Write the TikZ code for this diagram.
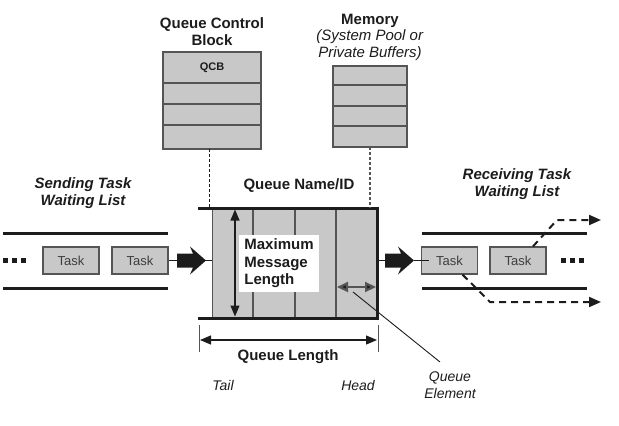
\documentclass[tikz,border=0pt]{standalone}
\usepackage{fontspec}
\setmainfont{Liberation Sans}
\usetikzlibrary{arrows.meta}
\definecolor{boxgray}{RGB}{200,200,200}
\definecolor{ink}{RGB}{28,28,28}
\definecolor{edgegray}{RGB}{85,85,85}
\begin{document}
\begin{tikzpicture}[x=1pt,y=-1pt,
  titlef/.style={font=\fontsize{15}{17}\selectfont\bfseries, align=center, text=ink, inner sep=0pt},
  titleit/.style={font=\fontsize{15}{17}\selectfont\bfseries\itshape, align=center, text=ink, inner sep=0pt},
  italf/.style={font=\fontsize{14}{17}\selectfont\itshape, align=center, text=ink, inner sep=0pt},
  cell/.style={draw=edgegray, line width=1.2pt, fill=boxgray, inner sep=0pt, outer sep=0pt},
  taskbox/.style={draw=edgegray, line width=1.2pt, fill=boxgray, minimum width=56pt, minimum height=27pt, inner sep=0pt, font=\fontsize{13}{15}\selectfont, text=ink!85},
  thickline/.style={line width=3pt, draw=ink},
  divider/.style={line width=1.3pt, draw=edgegray},
  dashtip/.style={-{Triangle[width=10pt,length=12pt]}, line width=2pt, draw=ink, dash pattern=on 7pt off 5pt},
  fatarrow/.style={fill=ink}
]
\useasboundingbox (0,0) rectangle (619,426);

% ---- Queue Control Block
\node[titlef] (qcbtitle) at (212,31.5) {Queue Control\\Block};
\node[cell, minimum width=98pt, minimum height=31pt, font=\fontsize{11}{13}\selectfont\bfseries, text=ink] (qcb1) at (212,67.5) {QCB};
\node[cell, minimum width=98pt, minimum height=21pt] (qcb2) at (212,93.5) {};
\node[cell, minimum width=98pt, minimum height=21pt] (qcb3) at (212,114.5) {};
\node[cell, minimum width=98pt, minimum height=24pt] (qcb4) at (212,137) {};

% ---- Memory
\node[inner sep=0pt, align=center, text=ink, font=\fontsize{15}{16.5}\selectfont] (memtitle) at (370,37)
  {\textbf{Memory}\\\textit{(System Pool or}\\\textit{Private Buffers)}};
\node[cell, minimum width=74pt, minimum height=19pt] (mem1) at (370,75.5) {};
\node[cell, minimum width=74pt, minimum height=21pt] (mem2) at (370,95.5) {};
\node[cell, minimum width=74pt, minimum height=20pt] (mem3) at (370,116) {};
\node[cell, minimum width=74pt, minimum height=21pt] (mem4) at (370,136.5) {};

% ---- Queue
\node[titlef] (qname) at (299,186) {Queue Name/ID};
\node[draw=edgegray, line width=1pt, fill=boxgray, minimum width=165pt, minimum height=110pt, inner sep=0pt, outer sep=0pt] (queue) at (294.5,263) {};
\draw[divider] ([xshift=41pt]queue.north west) -- ([xshift=41pt]queue.south west);
\draw[divider] ([xshift=83pt]queue.north west) -- ([xshift=83pt]queue.south west);
\draw[divider] ([xshift=124pt]queue.north west) -- ([xshift=124pt]queue.south west);
\draw[thickline, line join=miter] ([xshift=-14pt]queue.north west) -- (queue.north east) -- (queue.south east) -- ([xshift=-14pt]queue.south west);

% dashed links from QCB and memory
\draw[ink, line width=1pt, dash pattern=on 3pt off 2pt] (qcb4.south -| 209,0) -- (queue.north -| 209,0);
\draw[edgegray, line width=1.3pt, dash pattern=on 3pt off 2pt] (mem4.south) -- (mem4.south |- queue.north);

% maximum message length
\coordinate (mmtop) at (235,209.5);
\coordinate (mmbot) at (235,316.5);
\draw[ink, line width=1.2pt, {Triangle[width=9pt,length=11pt]}-{Triangle[width=9pt,length=11pt]}] (mmtop) -- (mmbot);
\node[fill=white, inner sep=0pt, minimum width=80pt, minimum height=57pt, font=\fontsize{15}{17.5}\selectfont\bfseries, align=left, text=ink] (mml) at (279,263.5) {Maximum\\Message\\Length};

% queue element arrow
\coordinate (qea) at (337,287);
\coordinate (qeb) at (376,287);
\draw[edgegray, line width=2.2pt, {Triangle[width=10pt,length=11pt,fill=ink]}-{Triangle[width=10pt,length=11pt,fill=ink]}] (qea) -- (qeb);
\node[italf] (qe) at (450,385) {Queue\\Element};
\coordinate (qeleadstart) at (353,292);
\coordinate (qeleadend) at (440,362);
\draw[ink, line width=0.9pt] (qeleadstart) -- (qeleadend);

% queue length
\coordinate (qlA1) at (199,325); \coordinate (qlA2) at (199,352);
\coordinate (qlB1) at (378,325); \coordinate (qlB2) at (378,352);
\draw[edgegray, line width=1pt] (qlA1) -- (qlA2);
\draw[edgegray, line width=1pt] (qlB1) -- (qlB2);
\coordinate (qlL) at (200,340); \coordinate (qlR) at (377,340);
\draw[ink, line width=1.2pt, {Triangle[width=9pt,length=11pt]}-{Triangle[width=9pt,length=11pt]}] (qlL) -- (qlR);
\node[titlef] (qlen) at (288,357) {Queue Length};
\node[italf] (tail) at (223,385) {Tail};
\node[italf] (head) at (358,385) {Head};

% ---- Sending task waiting list
\node[titleit] (sendtitle) at (83,193.5) {Sending Task\\Waiting List};
\draw[thickline] (3,233) -- (168,233);
\draw[thickline] (3,288) -- (168,288);
\fill[ink] (3,258) rectangle (8,263);
\fill[ink] (12,258) rectangle (17,263);
\fill[ink] (21,258) rectangle (26,263);
\node[taskbox] (t1) at (71,260.5) {Task};
\node[taskbox] (t2) at (140,260.5) {Task};
\coordinate (la) at (177,260.5);
\coordinate (lb) at (205,260.5);
\draw[ink, line width=0.8pt] (t2.east) -- (la);
\fill[fatarrow] (177,253.5) -- (193,253.5) -- (190,246.5) -- (206,260.5) -- (190,274.5) -- (193,267.5) -- (177,267.5) -- cycle;
\draw[ink, line width=0.8pt] (lb) -- (queue.west |- lb);

% ---- Receiving task waiting list
\node[titleit] (recvtitle) at (517,184) {Receiving Task\\Waiting List};
\draw[thickline] (422,233) -- (587,233);
\draw[thickline] (422,288) -- (587,288);
\node[taskbox] (r1) at (449.5,260.5) {Task};
\node[taskbox] (r2) at (518,260.5) {Task};
\fill[ink] (561,258) rectangle (566,263);
\fill[ink] (570,258) rectangle (575,263);
\fill[ink] (579,258) rectangle (584,263);
\coordinate (ra) at (385,260.5);
\coordinate (rb) at (414,260.5);
\draw[ink, line width=0.8pt] (queue.east |- ra) -- (ra);
\fill[fatarrow] (385,253.5) -- (401,253.5) -- (398,246.5) -- (414,260.5) -- (398,274.5) -- (401,267.5) -- (385,267.5) -- cycle;
\draw[ink, line width=0.8pt] (rb) -- ([xshift=8pt]r1.west);

% dashed exits
\coordinate (up1) at (557,220);
\coordinate (upend) at (601,220);
\draw[dashtip] ([xshift=15pt]r2.north) -- (up1) -- (upend);
\coordinate (dn1) at (490,302);
\coordinate (dnend) at (601,302);
\draw[dashtip] ([xshift=13pt]r1.south) -- (dn1) -- (dnend);
\end{tikzpicture}
\end{document}
